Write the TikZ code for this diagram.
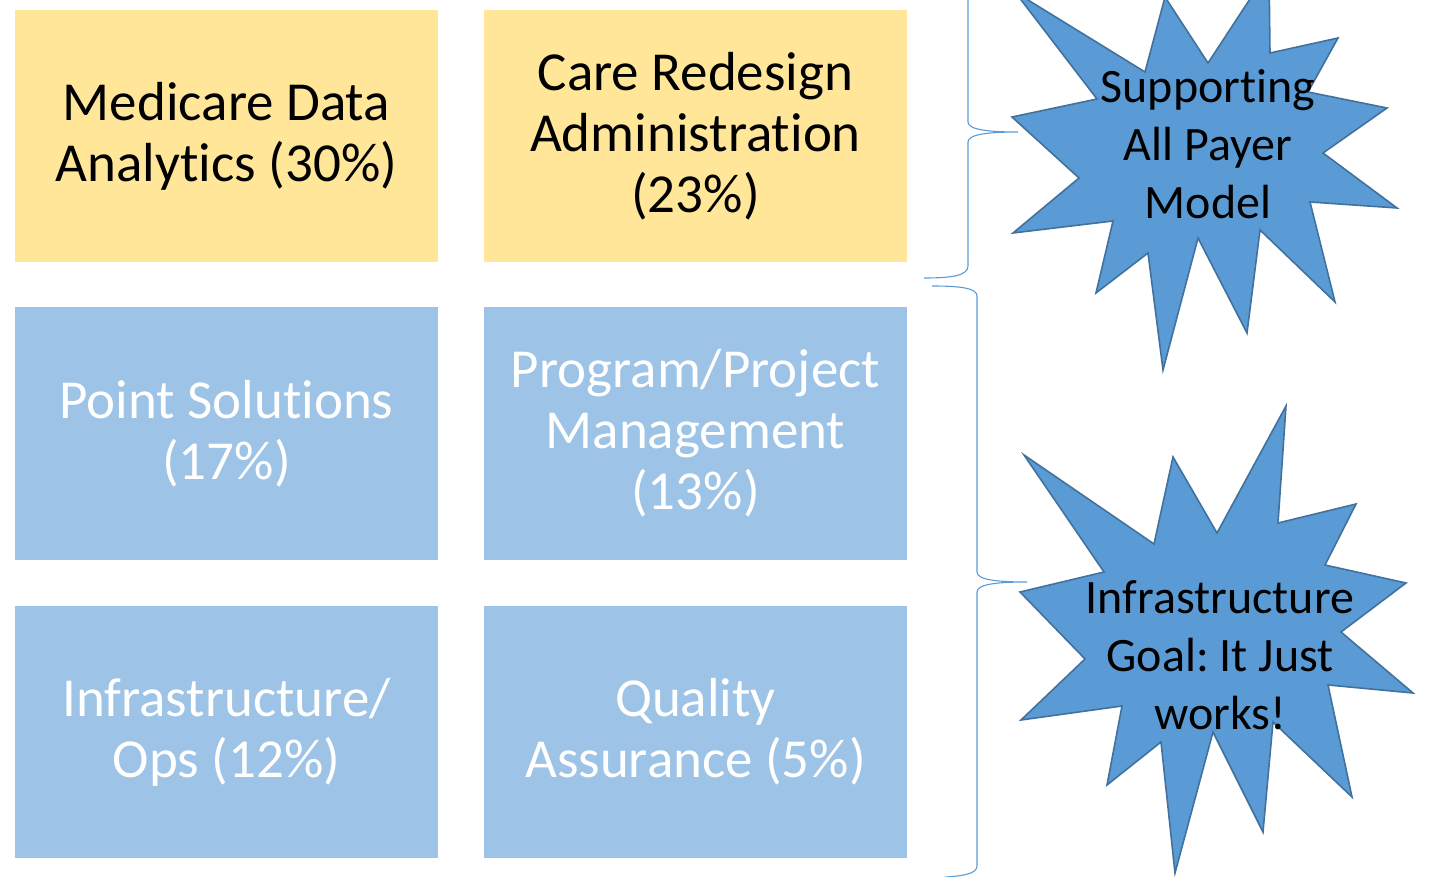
\documentclass[tikz,border=0pt]{standalone}
\usepackage{fontspec}
\setmainfont{Carlito}[Ligatures=NoCommon]
\frenchspacing
\begin{document}
\begin{tikzpicture}[x=1pt,y=-1pt,
  box/.style={minimum width=423pt,minimum height=252pt,inner sep=0pt,outer sep=0pt,
    align=center,font=\fontsize{55}{61}\selectfont},
  goldbox/.style={box,fill=boxgold,text=black},
  bluebox/.style={box,fill=boxblue,text=white},
  burst/.style={fill=burstfill,draw=burstedge,line width=1.6pt,line join=miter},
  bursttext/.style={align=center,text=black,inner sep=0pt,font=\fontsize{48}{58}\selectfont},
  brace/.style={draw=braceline,line width=1.1pt}]
\definecolor{boxgold}{HTML}{FFE699}
\definecolor{boxblue}{HTML}{9DC3E6}
\definecolor{burstfill}{HTML}{5B9BD5}
\definecolor{burstedge}{HTML}{41719C}
\definecolor{braceline}{HTML}{5B9BD5}
\useasboundingbox (0,0) rectangle (1430,877);
\clip (0,0) rectangle (1430,877);

% six category boxes
\node[goldbox] (mda) at (226.5,136) {Medicare Data\\Analytics (30\%)};
\node[goldbox] (cra) at (695.5,136) {Care Redesign\\Administration\\(23\%)};
\node[bluebox] (pts) at (226.5,433.5) {Point Solutions\\(17\%)};
\node[bluebox] (ppm) at (695.5,433.5) {Program/Project\\Management\\(13\%)};
\node[bluebox] (ops) at (226.5,732) {Infrastructure/\\Ops (12\%)};
\node[bluebox] (qa)  at (695.5,732) {Quality\\Assurance (5\%)};

% brace tips
\coordinate (tipA) at (1018,132);
\coordinate (tipB) at (1027,582);

% upper brace
\draw[brace] (968,-10) -- (968,122)
  .. controls (968,130) and (990,132) .. (tipA)
  .. controls (990,132) and (968,134) .. (968,142)
  -- (968,266) .. controls (968,276) and (950,278) .. (924,278);
% lower brace
\draw[brace] (932,286) .. controls (960,286) and (977,288) .. (977,296)
  -- (977,572) .. controls (977,580) and (998,582) .. (tipB)
  .. controls (998,582) and (977,584) .. (977,592)
  -- (977,866) .. controls (977,874) and (962,876) .. (945,877);

% upper burst
\draw[burst] (1015,-8) -- (1145,72) -- (1165,-3) -- (1208,63) -- (1269,-30)
  -- (1270,53) -- (1338,38) -- (1308,92) -- (1387,108) -- (1323,153)
  -- (1397,208) -- (1310,202) -- (1335,302) -- (1260,230) -- (1247,333)
  -- (1198,238) -- (1163,370) -- (1148,253) -- (1096,293) -- (1113,221)
  -- (1013,233) -- (1079,178) -- (1012,117) -- (1097,99) -- cycle;
\node[bursttext] (apm) at (1208,144) {Supporting\\All Payer\\Model};

% lower burst
\draw[burst] (1024,455) -- (1154,544) -- (1173,457) -- (1217,533) -- (1286,406)
  -- (1278,523) -- (1356,504) -- (1325,565) -- (1406,583) -- (1341,632)
  -- (1413,693) -- (1328,685) -- (1352,797) -- (1273,722) -- (1263,832)
  -- (1213,732) -- (1175,873) -- (1161,742) -- (1107,785) -- (1122,706)
  -- (1021,720) -- (1085,659) -- (1020,592) -- (1104,572) -- cycle;
\node[bursttext] (goal) at (1220,655) {Infrastructure\\Goal: It Just\\works!};
\end{tikzpicture}
\end{document}
